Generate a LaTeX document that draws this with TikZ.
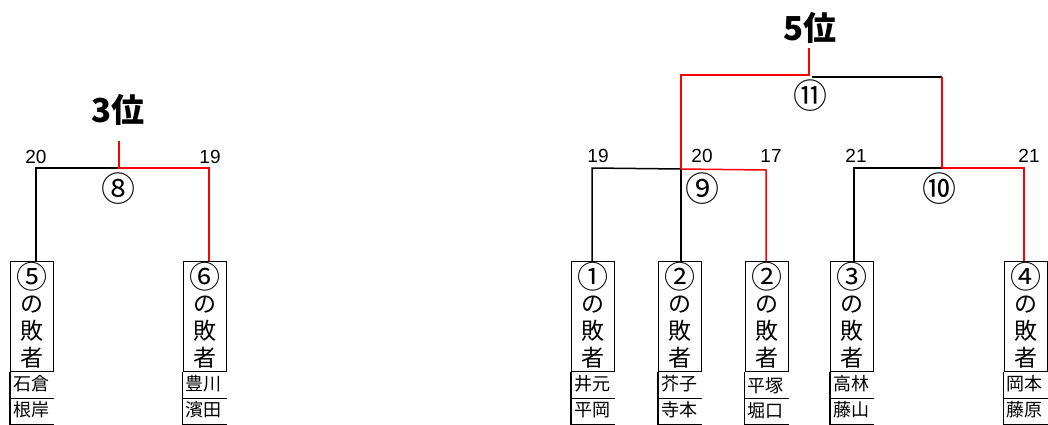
\documentclass[tikz,border=0pt]{standalone}
\usepackage{fontspec}
\setmainfont{Liberation Sans}
\newfontfamily\jp{Noto Sans CJK JP}
\newcommand{\circd}[1]{\raisebox{-4pt}[20pt][4pt]{\fontsize{31}{31}\selectfont #1}}
\begin{document}
\begin{tikzpicture}[x=1pt,y=-1pt,
  loserbox/.style={draw,line width=1.4pt,minimum width=43pt,minimum height=110pt,inner sep=0pt,
    anchor=north west,align=center,font=\jp\fontsize{23}{27.3}\selectfont},
  namecell/.style={anchor=west,inner sep=0pt,font=\jp\fontsize{18}{19}\selectfont},
  score/.style={inner sep=0pt,font=\fontsize{19}{20}\selectfont},
  roundlbl/.style={inner sep=0pt,font=\jp\fontsize{34}{34}\selectfont},
  title/.style={inner sep=0pt,font=\jp\bfseries\fontsize{33}{35}\selectfont},
  blk/.style={line width=1.5pt,black},
  rd/.style={line width=1.5pt,red}]
\useasboundingbox (0,0) rectangle (1048,424);

% loser boxes
\node[loserbox] (b5) at (10,261) {\circd{⑤}\\の\\敗\\者};
\node[loserbox] (b6) at (182.5,261) {\circd{⑥}\\の\\敗\\者};
\node[loserbox] (b1) at (571,261) {\circd{①}\\の\\敗\\者};
\node[loserbox] (b2a) at (658,261) {\circd{②}\\の\\敗\\者};
\node[loserbox] (b2b) at (744.5,261) {\circd{②}\\の\\敗\\者};
\node[loserbox] (b3) at (830,261) {\circd{③}\\の\\敗\\者};
\node[loserbox] (b4) at (1003.5,261) {\circd{④}\\の\\敗\\者};

% name cells
\foreach \b in {b5,b6,b1,b2a,b2b,b3,b4}{
  \draw[line width=1.4pt] (\b.south west) -- ++(0,53);
  \draw[line width=1.4pt] ([yshift=-26pt]\b.south west) -- ([yshift=-26pt]\b.south east);
  \draw[line width=1.4pt] ([yshift=-52pt]\b.south west) -- ([yshift=-52pt]\b.south east);
}
\node[namecell] (n5a) at (13,384) {石倉};
\node[namecell] (n5b) at (13,410) {根岸};
\node[namecell] (n6a) at (185.5,384) {豊川};
\node[namecell] (n6b) at (185.5,410) {濱田};
\node[namecell] (n1a) at (574,384) {井元};
\node[namecell] (n1b) at (574,410) {平岡};
\node[namecell] (n2a) at (661,384) {芥子};
\node[namecell] (n2b) at (661,410) {寺本};
\node[namecell] (n3a) at (747.5,386) {平塚};
\node[namecell] (n3b) at (747.5,411) {堀口};
\node[namecell] (n4a) at (833,384) {高林};
\node[namecell] (n4b) at (833,410) {藤山};
\node[namecell] (n7a) at (1006.5,384) {岡本};
\node[namecell] (n7b) at (1006.5,410) {藤原};

% bracket coordinates
\coordinate (l8) at (36,168);
\coordinate (m8) at (119,168);
\coordinate (t8) at (119,141);
\coordinate (r8) at (209,168);

\coordinate (l9) at (592,168);
\coordinate (m9) at (681,169);
\coordinate (r9) at (766,170);
\coordinate (l10) at (854,168);
\coordinate (m10) at (942,168);
\coordinate (r10) at (1024,168);
\coordinate (l11) at (681,75);
\coordinate (m11) at (809,75);
\coordinate (t11) at (809,48);
\coordinate (r11) at (942,77);

% match 8
\draw[blk] (l8 |- b5.north) -- (l8) -- (m8);
\draw[rd] (t8) -- (m8) -- (r8) -- (r8 |- b6.north);

% match 9
\draw[blk] (l9 |- b1.north) -- (l9) -- (m9);
\draw[blk] (m9 |- b2a.north) -- (m9);
\draw[rd] (m9) -- (r9) -- (r9 |- b2b.north);
% match 10
\draw[blk] (l10 |- b3.north) -- (l10) -- (m10);
\draw[rd] (m10) -- (r10) -- (r10 |- b4.north);
% match 11
\draw[rd] (t11) -- (m11) -- (l11) -- (m9);
\draw[blk] ([xshift=3pt]m11 |- r11) -- (r11);
\draw[rd] (r11) -- (m10);

% scores
\node[score] (s5) at (36,157) {20};
\node[score] (s6) at (210,157) {19};
\node[score] (s1) at (598,156) {19};
\node[score] (s2a) at (702,156) {20};
\node[score] (s2b) at (771,156) {17};
\node[score] (s3) at (856,156) {21};
\node[score] (s4) at (1029,156) {21};

% round labels
\node[roundlbl] (r8lbl) at (118,189) {⑧};
\node[roundlbl] (r9lbl) at (702,189) {⑨};
\node[roundlbl] (r10lbl) at (939,189) {⑩};
\node[roundlbl] (r11lbl) at (810,96) {⑪};

% titles
\node[title] (third) at (118,110) {3位};
\node[title] (fifth) at (810,28) {5位};
\end{tikzpicture}
\end{document}
